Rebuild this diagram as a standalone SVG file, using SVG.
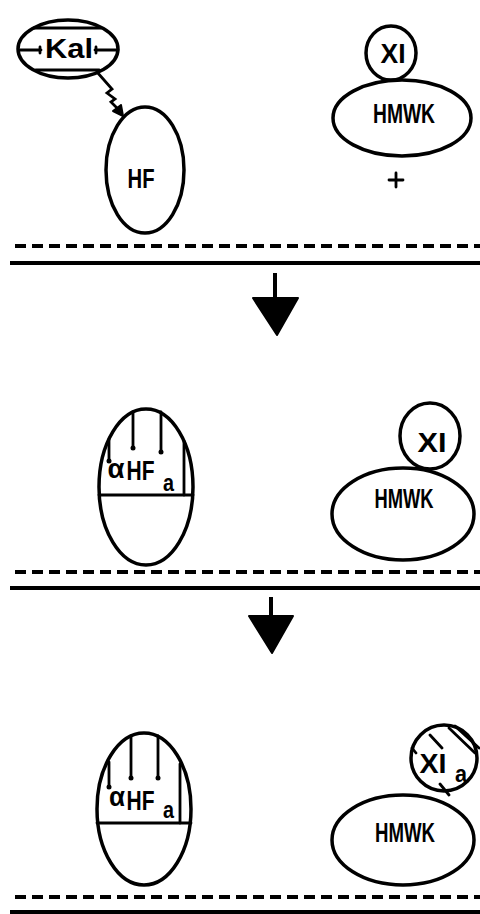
<svg xmlns="http://www.w3.org/2000/svg" width="480" height="914" viewBox="0 0 480 914">
  <style>
    .shape { fill: none; stroke: #000; stroke-width: 3.5; }
    .thin { fill: none; stroke: #000; stroke-width: 2.8; stroke-linecap: round; }
    .t { font-family: "Liberation Sans", Arial, sans-serif; font-size: 28px; font-weight: bold; fill: #000; text-anchor: middle; }
    .sub { font-family: "Liberation Sans", Arial, sans-serif; font-size: 24px; font-weight: bold; fill: #000; }
    .dash { fill: none; stroke: #000; stroke-width: 4; stroke-dasharray: 11 6; }
    .solid { fill: none; stroke: #000; stroke-width: 4; }
    .head { fill: #000; stroke: #000; stroke-width: 2; stroke-linejoin: round; }
  </style>
  <rect width="480" height="914" fill="#fff"/>

  <!-- Stage 1: kallikrein acting on Hageman factor; XI–HMWK complex in solution -->
  <g id="kal">
    <ellipse class="shape" cx="68" cy="49" rx="50" ry="29"/>
    <path class="thin" d="M34,28 L101,28 M36,70 L99,70"/>
    <path class="thin" d="M19,50 L41,50 M40,47 L40,53 M95,50 L118,50 M96,47 L96,53"/>
    <text class="t" x="69" y="58" textLength="48" lengthAdjust="spacingAndGlyphs">Kal</text>
  </g>
  <g id="hf">
    <ellipse class="shape" cx="145" cy="170" rx="39" ry="63"/>
    <text class="t" x="141" y="188" textLength="27" lengthAdjust="spacingAndGlyphs">HF</text>
  </g>
  <g id="xi-1">
    <ellipse class="shape" cx="391" cy="53" rx="25" ry="27"/>
    <text class="t" x="393" y="63" textLength="25" lengthAdjust="spacingAndGlyphs">XI</text>
  </g>
  <g id="hmwk-1">
    <ellipse class="shape" cx="402" cy="118" rx="69" ry="38"/>
    <text class="t" x="404" y="123" textLength="62" lengthAdjust="spacingAndGlyphs">HMWK</text>
  </g>
  <g id="plus">
    <path class="thin" d="M389,180 L403,180 M396,173 L396,187"/>
  </g>

  <!-- Stage 2: activated alpha-HFa on the surface; XI–HMWK approaching -->
  <g id="hfa-2">
    <ellipse class="shape" cx="146" cy="487" rx="47" ry="78"/>
    <path class="thin" d="M99,495 L193,495"/>
    <path class="thin" d="M133,412 L133,448 M161,412 L161,452 M109,439 L109,461 M184,441 L184,495"/>
    <circle cx="133" cy="448" r="2.5"/>
    <circle cx="161" cy="452" r="2.5"/>
    <circle cx="109" cy="461" r="2.5"/>
    <text class="t" x="116" y="478" textLength="17" lengthAdjust="spacingAndGlyphs">α</text>
    <text class="t" x="140.5" y="480" textLength="28" lengthAdjust="spacingAndGlyphs">HF</text>
    <text class="sub" x="163" y="491" textLength="11" lengthAdjust="spacingAndGlyphs">a</text>
  </g>
  <g id="xi-2">
    <ellipse class="shape" cx="430" cy="436" rx="30" ry="33"/>
    <text class="t" x="432" y="452" textLength="29" lengthAdjust="spacingAndGlyphs">XI</text>
  </g>
  <g id="hmwk-2">
    <ellipse class="shape" cx="403" cy="514" rx="71" ry="46"/>
    <text class="t" x="404" y="508" textLength="59" lengthAdjust="spacingAndGlyphs">HMWK</text>
  </g>

  <!-- Stage 3: XI cleaved to XIa -->
  <g id="hfa-3">
    <ellipse class="shape" cx="144" cy="809" rx="47" ry="76"/>
    <path class="thin" d="M97,823 L191,823"/>
    <path class="thin" d="M131,736 L131,778 M158,736 L158,778 M109,762 L109,787 M180,764 L180,823"/>
    <circle cx="131" cy="778" r="2.5"/>
    <circle cx="158" cy="778" r="2.5"/>
    <circle cx="109" cy="787" r="2.5"/>
    <text class="t" x="117" y="806" textLength="16" lengthAdjust="spacingAndGlyphs">α</text>
    <text class="t" x="140.5" y="810" textLength="28" lengthAdjust="spacingAndGlyphs">HF</text>
    <text class="sub" x="163" y="818" textLength="11" lengthAdjust="spacingAndGlyphs">a</text>
  </g>
  <g id="xia">
    <ellipse class="shape" cx="444" cy="758" rx="33" ry="33"/>
    <path class="thin" d="M430,735 L442,748 M449,728 L475,753 M455,726 L479,748 M440,784 L449,795 M412,748 L416,753"/>
    <text class="t" x="433" y="773" textLength="27" lengthAdjust="spacingAndGlyphs">XI</text>
    <text class="sub" x="455" y="782" textLength="12" lengthAdjust="spacingAndGlyphs">a</text>
  </g>
  <g id="hmwk-3">
    <ellipse class="shape" cx="403" cy="840" rx="71" ry="45"/>
    <text class="t" x="405" y="842" textLength="60" lengthAdjust="spacingAndGlyphs">HMWK</text>
  </g>

  <!-- connectors: activation arrow, stage arrows, surface lines -->
  <g id="connectors">
    <path class="thin" d="M97,72 L112,89 L107,93 L115,99 L111,102 L117,108"/>
    <polygon class="head" points="123,116 121,105 113,111"/>

    <path class="dash" d="M15,246 L480,246"/>
    <path class="solid" d="M10,263 L480,263"/>
    <path class="solid" d="M275,273 L275,298"/>
    <polygon class="head" points="253,298 298,298 277,335"/>

    <path class="dash" d="M15,572 L480,572"/>
    <path class="solid" d="M10,588 L480,588"/>
    <path class="solid" d="M271,597 L271,617"/>
    <polygon class="head" points="249,616 293,616 272,653"/>

    <path class="dash" d="M15,897 L480,897"/>
    <path class="solid" d="M10,912 L480,912"/>
  </g>
</svg>
